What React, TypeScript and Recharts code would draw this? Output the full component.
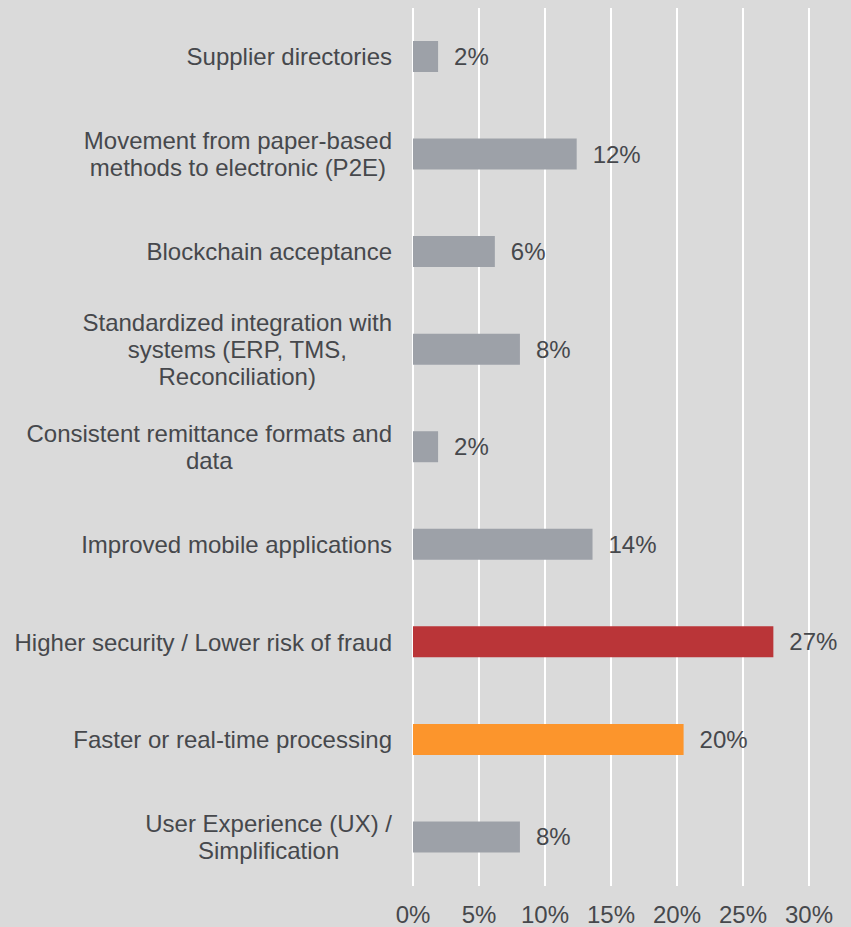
import { BarChart, Bar, XAxis, YAxis, CartesianGrid, LabelList, Cell } from 'recharts'

const categories = [
  'Supplier directories',
  'Movement from paper-based\nmethods to electronic (P2E)',
  'Blockchain acceptance',
  'Standardized integration with\nsystems (ERP, TMS,\nReconciliation)',
  'Consistent remittance formats and\ndata',
  'Improved mobile applications',
  'Higher security / Lower risk of fraud',
  'Faster or real-time processing',
  'User Experience (UX) /\nSimplification',
]
const shares = [1.9, 12.4, 6.2, 8.1, 1.9, 13.6, 27.3, 20.5, 8.1]
const shareLabels = ['2%', '12%', '6%', '8%', '2%', '14%', '27%', '20%', '8%']
const xTicks = [0, 5, 10, 15, 20, 25, 30]

const GRAY = '#9da1a8'
const barColors = [GRAY, GRAY, GRAY, GRAY, GRAY, GRAY, '#ba3538', '#fc952c', GRAY]

const FONT = "'Liberation Sans', Arial, sans-serif"
const FS = 24
const TEXT = '#46484c'

const data = categories.map((c, i) => ({ cat: c, v: shares[i], label: shareLabels[i] }))

let ctx: CanvasRenderingContext2D | null = null
function textWidth(s: string) {
  if (!ctx) ctx = document.createElement('canvas').getContext('2d')
  if (!ctx) return s.length * FS * 0.5
  ctx.font = `${FS}px ${FONT}`
  return ctx.measureText(s).width
}

function CatTick(props: any) {
  const { y, payload } = props
  const lines: string[] = String(payload.value).split('\n')
  const w = Math.max(...lines.map(textWidth))
  const cx = 392 - w / 2
  const lh = 27
  const first = y + FS * 0.35 - ((lines.length - 1) * lh) / 2
  return (
    <text x={cx} y={first} textAnchor="middle" fill={TEXT} fontSize={FS} fontFamily={FONT}>
      {lines.map((l, i) => (
        <tspan key={i} x={cx} y={first + i * lh}>{l}</tspan>
      ))}
    </text>
  )
}

export default function App() {
  return (
    <div style={{ position: 'absolute', left: 0, top: 0, width: 851, height: 927, background: '#dadada' }}>
      <BarChart
        width={851}
        height={927}
        data={data}
        layout="vertical"
        margin={{ top: 8, right: 42, bottom: 0, left: 0 }}
        barCategoryGap={0}
      >
        <CartesianGrid horizontal={false} stroke="#ffffff" strokeWidth={2} />
        <XAxis
          type="number"
          domain={[0, 30]}
          ticks={xTicks}
          tickFormatter={(v: number) => `${v}%`}
          axisLine={false}
          tickLine={false}
          tickSize={0}
          tickMargin={20}
          height={41}
          tick={{ fill: TEXT, fontSize: FS, fontFamily: FONT }}
          interval={0}
        />
        <YAxis
          type="category"
          dataKey="cat"
          width={413}
          axisLine={false}
          tickLine={false}
          tick={<CatTick />}
          interval={0}
        />
        <Bar dataKey="v" barSize={31} isAnimationActive={false}>
          {data.map((d, i) => (
            <Cell key={d.cat} fill={barColors[i]} />
          ))}
          <LabelList dataKey="label" position="right" offset={16} fill={TEXT} fontSize={FS} fontFamily={FONT} />
        </Bar>
      </BarChart>
    </div>
  )
}
